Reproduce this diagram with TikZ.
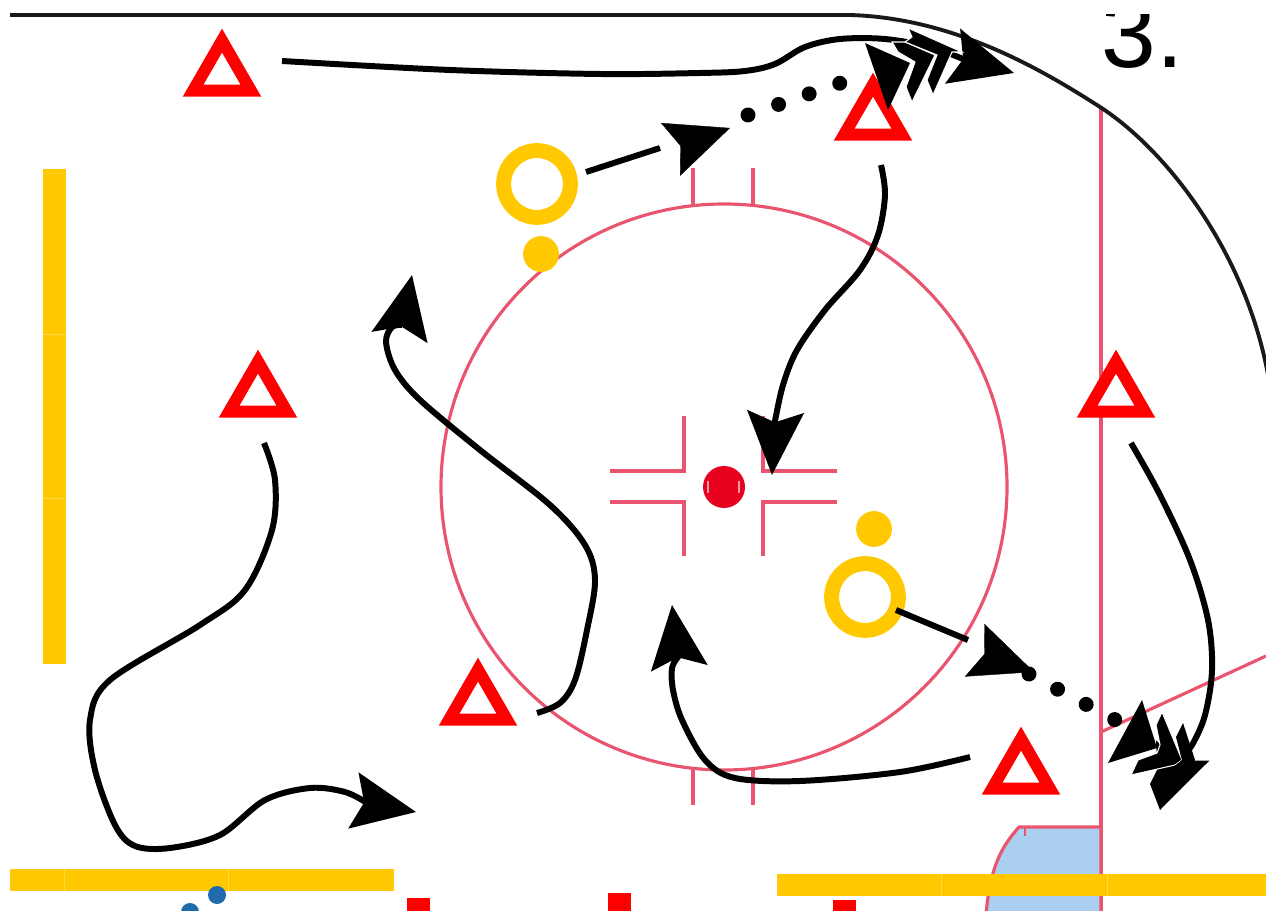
\documentclass[tikz,border=0pt]{standalone}
\usepackage{fontspec}
\setmainfont{Liberation Sans}
\usetikzlibrary{arrows.meta, shapes.geometric}
\definecolor{rinkred}{HTML}{E9546F}
\definecolor{padyellow}{HTML}{FFC800}
\definecolor{seamyellow}{HTML}{FFD94F}
\definecolor{creaseblue}{HTML}{ABCFEF}
\definecolor{facered}{HTML}{E8001F}
\definecolor{puckblue}{HTML}{1F6BAE}
\tikzset{
	rinkline/.style={draw=rinkred, line width=1.8pt},
	boards/.style={draw=black!90, line width=2.2pt},
	pad/.style={fill=padyellow},
	seam/.style={draw=seamyellow, line width=0.5pt},
	cone/.style={regular polygon, regular polygon sides=3, draw=red, fill=white, line width=6.8pt, miter limit=10, inner sep=0pt, minimum size=38pt},
	ring/.style={circle, draw=padyellow, line width=8.5pt, inner sep=0pt, minimum size=38pt},
	puck/.style={circle, fill=padyellow, inner sep=0pt, minimum size=20.4pt},
	skate/.style={draw=black, line width=3.4pt},
	head/.style={-{Stealth[length=36pt, width=32pt, inset=6pt]}},
	tiponly/.style={draw=black, line width=0.2pt, head},
	dotrun/.style={draw=black, line width=8.5pt, line cap=round, dash pattern=on 0.01pt off 18.4pt},
	wedge/.style={fill=black, draw=white, line width=0.6pt},
}
\begin{document}
\begin{tikzpicture}[x=0.02cm, y=-0.02cm]
	\useasboundingbox (0, 0) rectangle (1266, 911);
	% rink
	\draw[rinkline] (724, 487) circle[radius=283];
	\draw[rinkline] (693, 168) -- (693, 205);
	\draw[rinkline] (753, 168) -- (753, 205);
	\draw[rinkline] (693, 769) -- (693, 805);
	\draw[rinkline] (753, 769) -- (753, 805);
	\draw[rinkline] (610, 471) -- (684, 471) -- (684, 416);
	\draw[rinkline] (610, 502) -- (684, 502) -- (684, 556);
	\draw[rinkline] (837, 471) -- (763, 471) -- (763, 416);
	\draw[rinkline] (837, 502) -- (763, 502) -- (763, 556);
	\fill[facered] (724, 487) circle[radius=21];
	\draw[white!60!facered, line width=0.6pt] (708, 481) -- (708, 493);
	\draw[white!60!facered, line width=0.6pt] (739, 481) -- (739, 493);
	\draw[rinkline] (1101, 107) -- (1101, 911);
	\draw[rinkline] (1101, 732) -- (1266, 656);
	\draw[rinkline, fill=creaseblue] (1101, 827) -- (1019, 827) .. controls (1003, 845) and (990, 865) .. (986, 915) -- (1101, 915) -- cycle;
	\draw[rinkline, line width=1.2pt] (1025, 827) -- (1025, 836);
	% boards
	\draw[boards] (10, 15) -- (850, 15) .. controls (950, 18) and (1035, 65) .. (1100, 107) .. controls (1165, 149) and (1245, 250) .. (1268, 375);
	% pads
	\fill[pad] (43, 169) rectangle (66, 664);
	\draw[seam] (43, 334) -- (66, 334);
	\draw[seam] (43, 498) -- (66, 498);
	\fill[pad] (10, 869) rectangle (394, 891);
	\draw[seam] (64, 869) -- (64, 891);
	\draw[seam] (228, 869) -- (228, 891);
	\fill[pad] (777, 874) rectangle (1266, 896);
	\draw[seam] (941, 874) -- (941, 896);
	\draw[seam] (1107, 874) -- (1107, 896);
	% cut off at the bottom edge
	\fill[puckblue] (217, 895) circle[radius=9];
	\fill[puckblue] (190, 912) circle[radius=9];
	\fill[red] (407, 898) rectangle (430, 915);
	\fill[red] (608, 893) rectangle (631, 915);
	\fill[red] (833, 900) rectangle (856, 915);
	% number
	\node[font=\fontsize{56pt}{56pt}\selectfont, anchor=base west, inner sep=0pt] (num) at (1101, 68) {3.};
	\fill[white] (1090, 0) rectangle (1200, 14);
	% players
	\node[cone] (cone1) at (222, 74) {};
	\node[cone] (cone2) at (873, 118) {};
	\node[cone] (cone3) at (258, 395) {};
	\node[cone] (cone4) at (1116, 395) {};
	\node[cone] (cone5) at (478, 703) {};
	\node[cone] (cone6) at (1021, 772) {};
	\node[ring] (ring1) at (537, 184) {};
	\node[ring] (ring2) at (865, 597) {};
	\node[puck] (puck1) at (541, 254) {};
	\node[puck] (puck2) at (874, 529) {};
	% ends of the routes
	\coordinate (top1) at (282, 61);
	\coordinate (top2) at (1014, 73);
	\coordinate (mid1) at (881, 165);
	\coordinate (mid2) at (772, 475);
	\coordinate (lft1) at (537, 713);
	\coordinate (lft2) at (412, 275);
	\coordinate (low1) at (264, 443);
	\coordinate (low2) at (416, 812);
	\coordinate (bot1) at (970, 757);
	\coordinate (bot2) at (672, 605);
	\coordinate (rgt1) at (1131, 443);
	\coordinate (rgt2) at (1160, 810);
	\coordinate (pass1) at (586, 172);
	\coordinate (pass1b) at (660, 148);
	\coordinate (pass2) at (730, 128);
	\coordinate (dot1) at (748, 115);
	\coordinate (dot2) at (840.5, 83);
	\coordinate (pass3) at (896, 610);
	\coordinate (pass3b) at (968, 640);
	\coordinate (pass4) at (1034, 672);
	\coordinate (dot3) at (1029, 674);
	\coordinate (dot4) at (1115.5, 720);
	% routes
	\draw[skate, head] plot[smooth, tension=0.55] coordinates {(top1) (450, 70) (600, 74) (700, 73) (745, 71) (775, 64) (805, 47) (840, 39) (885, 39) (930, 47) (963, 59)} -- (top2);
	\draw[skate, head] plot[smooth, tension=0.55] coordinates {(mid1) (885, 195) (878, 235) (860, 270) (825, 310) (797, 350) (783, 385) (775, 421)} -- (mid2);
	\draw[skate, head] plot[smooth, tension=0.55] coordinates {(lft1) (560, 703) (575, 680) (587, 630) (595, 580) (585, 545) (550, 505) (480, 450) (420, 400) (395, 370) (386, 342) (392, 327) (402, 325)} -- (lft2);
	\draw[skate, head] plot[smooth, tension=0.55] coordinates {(low1) (275, 480) (272, 530) (245, 590) (200, 625) (110, 680) (90, 720) (95, 770) (115, 825) (135, 846) (170, 848) (220, 835) (265, 800) (310, 788) (345, 792) (367, 803)} -- (low2);
	\draw[skate, head] plot[smooth, tension=0.55] coordinates {(bot1) (900, 772) (800, 781) (735, 778) (705, 760) (682, 720) (673, 690) (672, 668) (678, 657)} -- (bot2);
	\draw[skate, head] plot[smooth, tension=0.55] coordinates {(rgt1) (1160, 495) (1190, 560) (1208, 620) (1212, 670) (1205, 715) (1192, 745) (1179, 760)} -- (rgt2);
	% passes
	\draw[skate] (pass1) -- (pass1b);
	\draw[tiponly] (680, 146) -- (pass2);
	\draw[dotrun] (dot1) -- (dot2);
	\draw[skate] (pass3) -- (pass3b);
	\draw[tiponly] (985, 654) -- (pass4);
	\draw[dotrun] (dot3) -- (dot4);
	% heads piled up at the end of the passes
	\fill[black] (865, 43) -- (910, 63) -- (888, 110) -- cycle;
	\filldraw[wedge] (906, 87) -- (912, 102) -- (935, 55) -- (905, 42) -- (892, 42) -- (898, 52) -- (915, 62) -- cycle;
	\filldraw[wedge] (908, 28) -- (962, 52) -- (952, 52) -- (933, 95) -- (927, 80) -- (937, 55) -- (905, 42) -- (912, 37) -- cycle;
	\fill[black] (1142, 700) -- (1157, 748) -- (1108, 763) -- cycle;
	\filldraw[wedge] (1162, 712) -- (1156, 725) -- (1160, 745) -- (1157, 753) -- (1138, 760) -- (1131, 775) -- (1175, 765) -- (1182, 760) -- cycle;
	\fill[black] (1183, 723) -- (1176, 737) -- (1182, 760) -- (1172, 768) -- (1157, 770) -- (1150, 784) -- (1160, 810) -- (1195, 760) -- cycle;
\end{tikzpicture}
\end{document}
